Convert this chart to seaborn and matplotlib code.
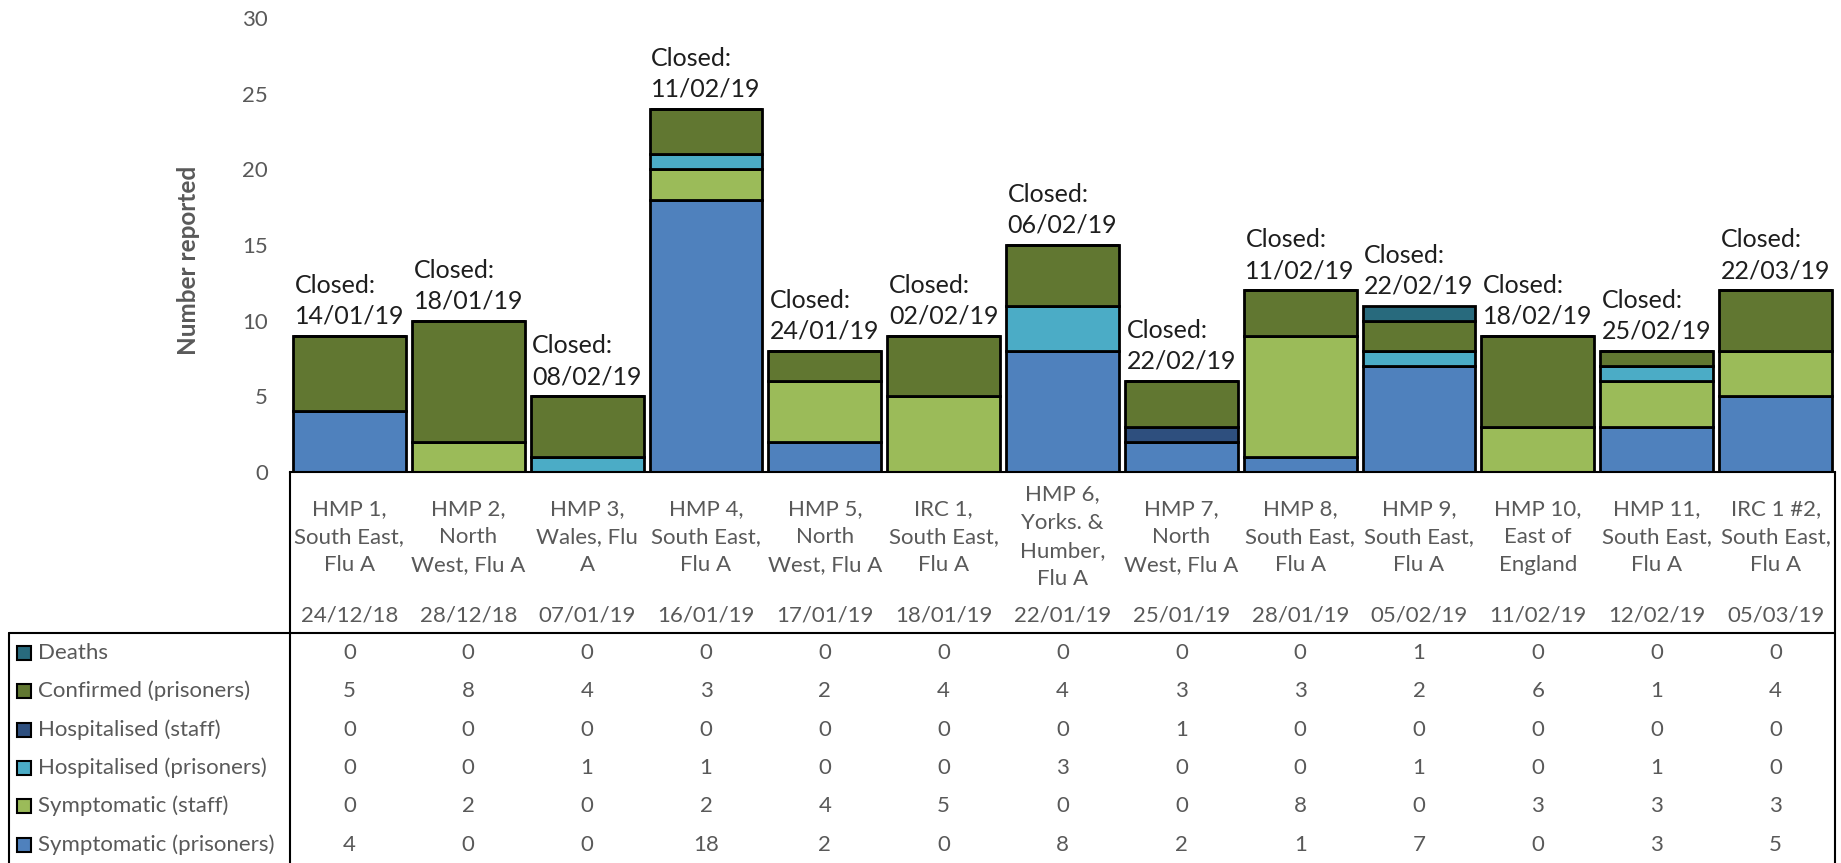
import numpy as np
import pandas as pd
import matplotlib
matplotlib.use("Agg")
import matplotlib.pyplot as plt
import matplotlib.transforms as mtrans
from matplotlib.patches import Rectangle
import seaborn as sns

# ---- data ----
outbreaks = ["HMP 1,\nSouth East,\nFlu A", "HMP 2,\nNorth\nWest, Flu A", "HMP 3,\nWales, Flu\nA",
             "HMP 4,\nSouth East,\nFlu A", "HMP 5,\nNorth\nWest, Flu A", "IRC 1,\nSouth East,\nFlu A",
             "HMP 6,\nYorks. &\nHumber,\nFlu A", "HMP 7,\nNorth\nWest, Flu A", "HMP 8,\nSouth East,\nFlu A",
             "HMP 9,\nSouth East,\nFlu A", "HMP 10,\nEast of\nEngland", "HMP 11,\nSouth East,\nFlu A",
             "IRC 1 #2,\nSouth East,\nFlu A"]
onset_dates = ["24/12/18", "28/12/18", "07/01/19", "16/01/19", "17/01/19", "18/01/19", "22/01/19",
               "25/01/19", "28/01/19", "05/02/19", "11/02/19", "12/02/19", "05/03/19"]
closed_dates = ["14/01/19", "18/01/19", "08/02/19", "11/02/19", "24/01/19", "02/02/19", "06/02/19",
                "22/02/19", "11/02/19", "22/02/19", "18/02/19", "25/02/19", "22/03/19"]

symp_prisoners = [4, 0, 0, 18, 2, 0, 8, 2, 1, 7, 0, 3, 5]
symp_staff = [0, 2, 0, 2, 4, 5, 0, 0, 8, 0, 3, 3, 3]
hosp_prisoners = [0, 0, 1, 1, 0, 0, 3, 0, 0, 1, 0, 1, 0]
hosp_staff = [0, 0, 0, 0, 0, 0, 0, 1, 0, 0, 0, 0, 0]
confirmed = [5, 8, 4, 3, 2, 4, 4, 3, 3, 2, 6, 1, 4]
deaths = [0, 0, 0, 0, 0, 0, 0, 0, 0, 1, 0, 0, 0]

# bottom -> top stacking order
series = [
    ("Symptomatic (prisoners)", symp_prisoners, "#4F81BD"),
    ("Symptomatic (staff)", symp_staff, "#9BBB59"),
    ("Hospitalised (prisoners)", hosp_prisoners, "#4BACC6"),
    ("Hospitalised (staff)", hosp_staff, "#2E4F7E"),
    ("Confirmed (prisoners)", confirmed, "#617731"),
    ("Deaths", deaths, "#286A7D"),
]

W, H = 1841, 863
GREY = "#595959"

sns.set_style("white")
plt.rcParams["font.family"] = ["Lato", "DejaVu Sans"]

fig = plt.figure(figsize=(W / 100, H / 100), dpi=100)
ax = fig.add_axes([290 / W, 1 - 472 / H, (1835 - 290) / W, (472 - 18) / H])

keys = [str(i) for i in range(len(outbreaks))]
bottom = np.zeros(len(outbreaks))
for name, vals, col in series:
    df = pd.DataFrame({"outbreak": keys, "n": vals})
    sns.barplot(data=df, x="outbreak", y="n", order=keys, bottom=bottom, color=col,
                width=0.95, edgecolor="black", linewidth=2, errorbar=None, ax=ax,
                saturation=1)
    bottom = bottom + np.array(vals)

ax.set_xlim(-0.5, len(outbreaks) - 0.5)
ax.set_ylim(0, 30)
ax.set_yticks(range(0, 31, 5))
ax.tick_params(axis="y", length=0, pad=16, labelsize=16, labelcolor=GREY)
ax.set_xticks([])
ax.set_xlabel("")
ax.set_ylabel("")
for s in ["top", "right", "left"]:
    ax.spines[s].set_visible(False)
ax.spines["bottom"].set_color("black")
ax.spines["bottom"].set_linewidth(1.5)

# closed labels above each bar
for i, tot in enumerate(bottom):
    ax.annotate("Closed:\n" + closed_dates[i], xy=(i, tot), xytext=(0, 6),
                textcoords="offset points", ha="center", va="bottom",
                multialignment="left", fontsize=18, color="#1E1E1E", linespacing=1.4)

# overlay in pixel coordinates for the data table
ov = fig.add_axes([0, 0, 1, 1], facecolor="none")
ov.set_xlim(0, W)
ov.set_ylim(H, 0)
ov.axis("off")
tr = mtrans.blended_transform_factory(ax.transData, ov.transData)

ov.text(189, 260, "Number reported", rotation=90, ha="center", va="center",
        fontsize=17.5, fontweight="bold", color=GREY)

# table borders
ov.plot([290, 290], [472, H], color="black", lw=1.5)
ov.plot([1835, 1835], [472, H], color="black", lw=1.5)
ov.plot([9, 1835], [633, 633], color="black", lw=1.5)
ov.plot([9, 9], [633, H], color="black", lw=1.5)

for i in range(len(outbreaks)):
    ov.text(i, 537, outbreaks[i], transform=tr, ha="center", va="center",
            fontsize=16, color=GREY, linespacing=1.52)
    ov.text(i, 615, onset_dates[i], transform=tr, ha="center", va="center",
            fontsize=16, color=GREY)

row_y = [653, 691, 730, 768, 806, 845]
for y, (name, vals, col) in zip(row_y, series[::-1]):
    ov.add_patch(Rectangle((17, y - 7), 14, 14, facecolor=col, edgecolor="black", lw=1.5))
    ov.text(38, y, name, ha="left", va="center", fontsize=16, color=GREY)
    for i, v in enumerate(vals):
        ov.text(i, y, str(v), transform=tr, ha="center", va="center",
                fontsize=16, color=GREY)

fig.savefig("out.png", dpi=100)
